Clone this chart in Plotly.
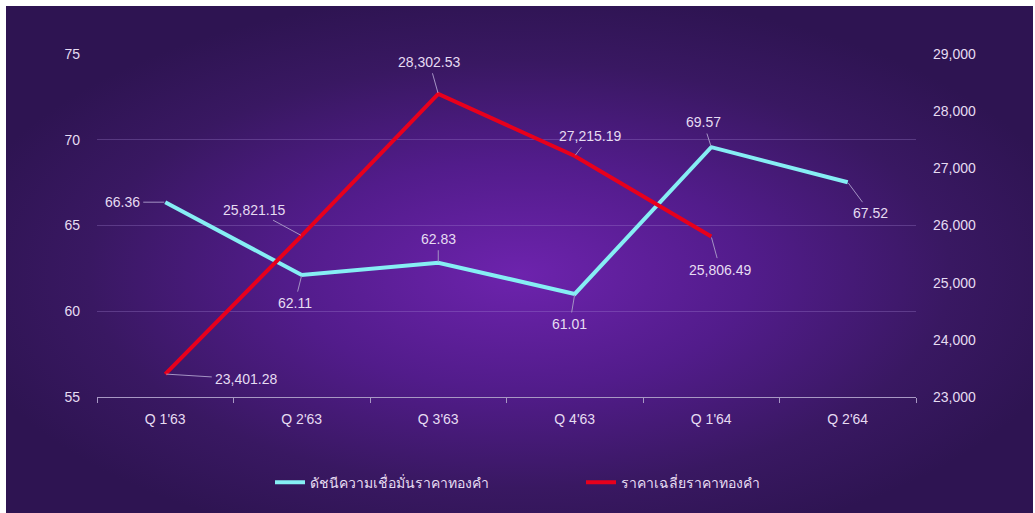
import base64
import plotly.graph_objects as go

# ---- data ----
quarters = ["Q 1'63", "Q 2'63", "Q 3'63", "Q 4'63", "Q 1'64", "Q 2'64"]
confidence = [66.36, 62.11, 62.83, 61.01, 69.57, 67.52]
gold_price = [23401.28, 25821.15, 28302.53, 27215.19, 25806.49, None]
confidence_name = "ดัชนีความเชื่อมั่นราคาทองคำ"
price_name = "ราคาเฉลี่ยราคาทองคำ"

# label offsets (pixels) for the value callouts
conf_offsets = [(-43, 0), (-7, 28), (0, -24), (-5, 30), (-8, -25), (23, 31)]
price_offsets = [(81, 5), (-48, -26), (-9, -32), (15, -20), (9, 33)]

CYAN = "#86eef4"
RED = "#e8001c"
TXT = "#e6dcf2"
LEADER = "#a493c4"
FONT = "Liberation Sans, Arial, sans-serif"

# radial gradient background as an SVG image
svg = (
    '<svg xmlns="http://www.w3.org/2000/svg" width="1027" height="507" viewBox="0 0 1027 507" '
    'preserveAspectRatio="none"><defs><radialGradient id="g" cx="0.5" cy="0.53" r="0.56">'
    '<stop offset="0" stop-color="#6d23ad"/><stop offset="0.4" stop-color="#521c8b"/>'
    '<stop offset="0.75" stop-color="#391862"/><stop offset="1" stop-color="#2e1452"/>'
    '</radialGradient></defs><rect width="1027" height="507" fill="url(#g)"/></svg>'
)
svg_uri = "data:image/svg+xml;base64," + base64.b64encode(svg.encode()).decode()

fig = go.Figure()
fig.add_trace(go.Scatter(
    x=quarters, y=confidence, name=confidence_name, mode="lines",
    line=dict(color=CYAN, width=4), yaxis="y",
))
fig.add_trace(go.Scatter(
    x=quarters, y=gold_price, name=price_name, mode="lines",
    line=dict(color=RED, width=4), yaxis="y2",
))

annotations = []
for q, v, (ax, ay) in zip(quarters, confidence, conf_offsets):
    annotations.append(dict(
        x=q, y=v, xref="x", yref="y", text=f"{v:.2f}", showarrow=True,
        ax=ax, ay=ay, arrowhead=0, arrowwidth=1, arrowcolor=LEADER,
        standoff=1, startstandoff=2, font=dict(color=TXT, size=14, family=FONT),
    ))
for q, v, (ax, ay) in zip(quarters, gold_price, price_offsets):
    if v is None:
        continue
    annotations.append(dict(
        x=q, y=v, xref="x", yref="y2", text=f"{v:,.2f}", showarrow=True,
        ax=ax, ay=ay, arrowhead=0, arrowwidth=1, arrowcolor=LEADER,
        standoff=1, startstandoff=2, font=dict(color=TXT, size=14, family=FONT),
    ))

W, H = 1035, 513
L, R, T, B = 97, 119, 54, 116
pw, ph = W - L - R, H - T - B

fig.update_layout(
    width=W, height=H, autosize=False,
    margin=dict(l=L, r=R, t=T, b=B, pad=0),
    paper_bgcolor="white", plot_bgcolor="rgba(0,0,0,0)",
    font=dict(family=FONT, color=TXT, size=14),
    showlegend=True,
    legend=dict(
        orientation="h", x=(270 - L) / pw, xanchor="left", y=-0.25, yanchor="middle",
        font=dict(size=14, color=TXT, family=FONT),
        entrywidth=266, entrywidthmode="pixels", bgcolor="rgba(0,0,0,0)",
        itemwidth=30,
    ),
    xaxis=dict(
        type="category", range=[-0.5, 5.5], showgrid=False, zeroline=False,
        showline=True, linecolor="#a898c4", linewidth=1,
        ticks="outside", tickson="boundaries", ticklen=5, tickcolor="#a898c4",
        tickfont=dict(size=14, color=TXT), ticklabelstandoff=9, fixedrange=True,
    ),
    yaxis=dict(
        range=[55, 75], dtick=5, showgrid=True, gridcolor="rgba(170,140,215,0.3)",
        gridwidth=1, zeroline=False, showline=False, ticks="",
        tickfont=dict(size=14, color=TXT), ticklabelstandoff=16,
    ),
    yaxis2=dict(
        range=[23000, 29000], dtick=1000, tickformat=",", overlaying="y", side="right",
        showgrid=False, zeroline=False, showline=False, ticks="",
        tickfont=dict(size=14, color=TXT), ticklabelstandoff=16,
    ),
    annotations=annotations,
    images=[dict(
        source=svg_uri, xref="paper", yref="paper",
        x=(6 - L) / pw, y=(H - B - 6) / ph,
        sizex=(1033 - 6) / pw, sizey=(513 - 6) / ph,
        xanchor="left", yanchor="top", sizing="stretch", layer="below",
    )],
)

fig.write_html(
    "out.html",
    config={"displayModeBar": False},
    post_script="document.body.style.margin='0';document.body.style.overflow='hidden';",
)
